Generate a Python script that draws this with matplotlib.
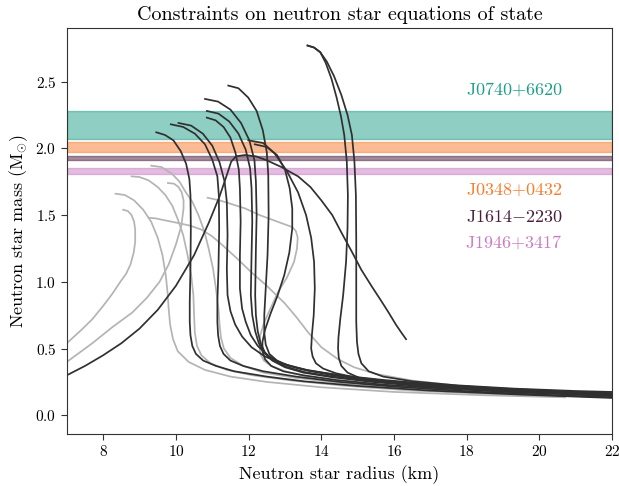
import numpy as np
import matplotlib
matplotlib.use("Agg")
from matplotlib import pyplot as plt

plt.rcParams['font.family'] = 'serif'
plt.rcParams['font.serif'] = ['cmr10', 'DejaVu Serif']
plt.rcParams['mathtext.fontset'] = 'cm'
plt.rcParams['axes.formatter.use_mathtext'] = True

# =====================================================================
# pulsar mass measurements (low, high) in solar masses
pulsar_names = ['J0740$+$6620', 'J0348$+$0432', 'J1614$-$2230', 'J1946$+$3417']
pulsar_lo = [2.07, 1.97, 1.91, 1.81]
pulsar_hi = [2.28, 2.05, 1.945, 1.85]
pulsar_colors = ['#1f9e89', '#f97b2c', '#4b1c3d', '#c97cc4']
label_mass = [2.445, 1.694, 1.489, 1.294]

# mass-radius curves: (radius km, mass Msun)
# dark = allowed EOS, gray = excluded EOS
dark_r = [
    # self-bound branch rising from the left, then sweeping out to the right
    [7.0, 7.5, 8.0, 8.5, 9.0, 9.5, 10.0, 10.5, 10.9, 11.2, 11.4, 11.52, 11.65, 11.9, 12.2, 12.5,
     12.9, 13.36, 13.7, 14.0, 14.3, 14.55, 14.85, 15.1, 15.4, 15.64, 15.85, 16.05, 16.2, 16.33],
    [9.46, 9.7, 9.93, 10.13, 10.28, 10.37, 10.4, 10.41, 10.4, 10.38, 10.38, 10.4, 10.45, 10.55,
     10.75, 11.1, 11.6, 12.5, 13.5, 15.0, 17.0, 19.5, 22.0],
    [9.86, 10.2, 10.52, 10.8, 11.0, 11.14, 11.18, 11.19, 11.17, 11.14, 11.14, 11.16, 11.21, 11.31,
     11.5, 11.85, 12.4, 13.3, 14.5, 16.0, 18.0, 20.0, 22.0],
    [10.07, 10.42, 10.74, 11.0, 11.2, 11.34, 11.4, 11.42, 11.4, 11.42, 11.5, 11.63, 11.82, 12.08,
     12.45, 12.95, 13.6, 14.6, 16.0, 18.0, 20.0, 22.0],
    [10.85, 11.09, 11.31, 11.5, 11.64, 11.73, 11.76, 11.78, 11.76, 11.76, 11.82, 11.92, 12.06, 12.25,
     12.52, 12.9, 13.45, 14.3, 15.5, 17.0, 18.8, 20.5, 22.0],
    [10.85, 11.17, 11.47, 11.72, 11.92, 12.04, 12.08, 12.1, 12.08, 12.06, 12.1, 12.18, 12.28, 12.42,
     12.65, 13.0, 13.5, 14.3, 15.4, 16.9, 18.7, 20.4, 22.0],
    [10.8, 11.16, 11.5, 11.79, 12.02, 12.16, 12.2, 12.22, 12.2, 12.18, 12.2, 12.25, 12.33, 12.45,
     12.68, 13.02, 13.52, 14.3, 15.45, 16.9, 18.8, 20.5, 22.0],
    [11.44, 11.72, 11.99, 12.22, 12.39, 12.5, 12.54, 12.55, 12.52, 12.47, 12.43, 12.43, 12.47, 12.57,
     12.78, 13.12, 13.65, 14.5, 15.7, 17.2, 19.0, 20.6, 22.0],
    [11.99, 12.4, 12.72, 13.05, 13.36, 13.58, 13.72, 13.8, 13.82, 13.79, 13.74, 13.72, 13.76, 13.85,
     14.05, 14.4, 15.0, 16.0, 17.4, 19.2, 20.7, 22.0],
    [12.17, 12.5, 12.78, 13.0, 13.13, 13.2, 13.2, 13.12, 12.98, 12.8, 12.6, 12.45, 12.38, 12.38,
     12.45, 12.62, 12.95, 13.5, 14.4, 15.7, 17.4, 19.5, 22.0],
    [13.62, 13.8, 13.97, 14.12, 14.28, 14.42, 14.54, 14.63, 14.7, 14.73, 14.72, 14.68, 14.6, 14.52,
     14.47, 14.46, 14.48, 14.55, 14.72, 15.05, 15.7, 16.8, 18.3, 20.0, 22.0],
    [13.62, 13.8, 13.97, 14.15, 14.35, 14.55, 14.72, 14.84, 14.91, 14.95, 14.96, 14.96, 14.96, 14.98,
     15.02, 15.1, 15.3, 15.7, 16.5, 17.7, 19.3, 21.0, 22.0],
]
dark_m = [
    [0.3, 0.37, 0.45, 0.54, 0.65, 0.79, 0.97, 1.2, 1.44, 1.64, 1.8, 1.9, 1.94, 1.95, 1.94, 1.91,
     1.86, 1.79, 1.71, 1.61, 1.5, 1.37, 1.22, 1.09, 0.96, 0.86, 0.77, 0.68, 0.62, 0.57],
    [2.12, 2.1, 2.06, 1.98, 1.885, 1.77, 1.65, 1.4, 1.1, 0.85, 0.7, 0.6, 0.52, 0.46,
     0.41, 0.37, 0.33, 0.29, 0.255, 0.22, 0.185, 0.155, 0.13],
    [2.18, 2.16, 2.11, 2.03, 1.915, 1.79, 1.65, 1.4, 1.1, 0.85, 0.7, 0.6, 0.52, 0.46,
     0.41, 0.37, 0.33, 0.29, 0.25, 0.215, 0.18, 0.155, 0.135],
    [2.19, 2.17, 2.11, 2.02, 1.895, 1.75, 1.6, 1.35, 1.1, 0.9, 0.78, 0.68, 0.59, 0.51,
     0.44, 0.385, 0.34, 0.295, 0.25, 0.205, 0.17, 0.145],
    [2.23, 2.21, 2.16, 2.08, 1.965, 1.84, 1.7, 1.45, 1.2, 0.95, 0.8, 0.7, 0.6, 0.52,
     0.45, 0.39, 0.345, 0.3, 0.26, 0.225, 0.19, 0.165, 0.145],
    [2.28, 2.26, 2.2, 2.11, 1.99, 1.85, 1.7, 1.45, 1.2, 0.9, 0.75, 0.63, 0.54, 0.47,
     0.41, 0.36, 0.32, 0.285, 0.25, 0.215, 0.185, 0.165, 0.15],
    [2.37, 2.35, 2.29, 2.19, 2.06, 1.91, 1.75, 1.5, 1.25, 0.9, 0.75, 0.63, 0.54, 0.47,
     0.41, 0.365, 0.325, 0.29, 0.255, 0.222, 0.193, 0.173, 0.155],
    [2.47, 2.45, 2.38, 2.28, 2.135, 1.97, 1.8, 1.5, 1.2, 0.95, 0.75, 0.62, 0.53, 0.46,
     0.41, 0.37, 0.335, 0.3, 0.265, 0.23, 0.2, 0.18, 0.16],
    [2.06, 2.04, 1.96, 1.83, 1.67, 1.5, 1.33, 1.15, 0.95, 0.75, 0.6, 0.5, 0.44, 0.39,
     0.35, 0.315, 0.28, 0.245, 0.215, 0.19, 0.175, 0.165],
    [2.03, 2.01, 1.95, 1.84, 1.7, 1.55, 1.4, 1.22, 1.05, 0.9, 0.76, 0.64, 0.55, 0.48,
     0.42, 0.37, 0.33, 0.3, 0.265, 0.23, 0.2, 0.17, 0.15],
    [2.77, 2.755, 2.72, 2.64, 2.52, 2.38, 2.24, 2.1, 1.9, 1.65, 1.4, 1.15, 0.9, 0.72,
     0.58, 0.5, 0.43, 0.37, 0.32, 0.28, 0.25, 0.22, 0.195, 0.18, 0.165],
    [2.77, 2.755, 2.72, 2.65, 2.54, 2.4, 2.25, 2.1, 1.9, 1.65, 1.3, 1.0, 0.7, 0.55,
     0.46, 0.39, 0.33, 0.29, 0.255, 0.225, 0.2, 0.182, 0.175],
]

gray_r = [
    [8.55, 8.68, 8.78, 8.85, 8.88, 8.88, 8.84, 8.75, 8.63, 8.47, 8.25, 8.0, 7.7, 7.4, 7.0],
    [9.78, 9.95, 10.07, 10.16, 10.21, 10.21, 10.15, 10.0, 9.8, 9.55, 9.2, 8.8, 8.25, 7.7, 7.0],
    [8.34, 8.6, 8.85, 9.1, 9.32, 9.5, 9.63, 9.72, 9.77, 9.8, 9.84, 9.92, 10.05, 10.35, 10.8, 11.5,
     12.5, 14.0, 16.0, 18.5, 20.7],
    [8.78, 9.0, 9.25, 9.5, 9.71, 9.9, 10.05, 10.2, 10.32, 10.42, 10.48, 10.5, 10.52, 10.58, 10.7,
     10.95, 11.4, 12.1, 13.2, 14.7, 16.5, 18.6, 20.7],
    [9.32, 9.6, 9.89, 10.1, 10.25, 10.45, 10.62, 10.78, 10.9, 11.02, 11.1, 11.17, 11.2, 11.24,
     11.32, 11.5, 11.85, 12.4, 13.3, 14.6, 16.3, 18.4, 20.7],
    [9.25, 9.45, 9.62, 10.07, 10.4, 10.71, 11.0, 11.3, 11.7, 12.08, 12.5, 12.99, 13.3, 13.64,
     14.0, 14.46, 14.9, 15.5, 16.5, 18.0, 19.5, 21.5],
    [10.87, 11.2, 11.5, 11.9, 12.3, 12.7, 13.0, 13.2, 13.3, 13.35, 13.33, 13.25, 13.05, 12.82,
     12.6, 12.42, 12.32, 12.3, 12.32, 12.42, 12.62, 13.0, 13.6, 14.5, 15.8, 17.5, 19.5, 21.5],
]
gray_m = [
    [1.54, 1.53, 1.5, 1.45, 1.39, 1.3, 1.22, 1.13, 1.06, 1.0, 0.91, 0.82, 0.72, 0.64, 0.54],
    [1.74, 1.735, 1.71, 1.67, 1.61, 1.55, 1.42, 1.28, 1.13, 1.0, 0.88, 0.77, 0.66, 0.54, 0.4],
    [1.66, 1.65, 1.61, 1.54, 1.45, 1.33, 1.2, 1.05, 0.92, 0.8, 0.68, 0.57, 0.48, 0.4, 0.34, 0.29,
     0.25, 0.21, 0.175, 0.15, 0.135],
    [1.79, 1.785, 1.76, 1.71, 1.65, 1.57, 1.47, 1.35, 1.2, 1.05, 0.9, 0.75, 0.62, 0.52, 0.45,
     0.39, 0.34, 0.3, 0.26, 0.22, 0.185, 0.16, 0.14],
    [1.87, 1.86, 1.81, 1.75, 1.68, 1.6, 1.5, 1.38, 1.25, 1.1, 0.95, 0.8, 0.68, 0.58,
     0.5, 0.43, 0.37, 0.32, 0.28, 0.24, 0.2, 0.17, 0.145],
    [1.48, 1.475, 1.465, 1.44, 1.42, 1.39, 1.34, 1.27, 1.17, 1.07, 0.97, 0.84, 0.74, 0.62,
     0.51, 0.42, 0.36, 0.31, 0.26, 0.215, 0.185, 0.16],
    [1.63, 1.61, 1.585, 1.55, 1.5, 1.46, 1.43, 1.41, 1.38, 1.33, 1.25, 1.15, 1.03, 0.93,
     0.8, 0.69, 0.6, 0.52, 0.46, 0.41, 0.37, 0.33, 0.29, 0.255, 0.22, 0.19, 0.165, 0.145],
]

# =====================================================================
fig = plt.figure(figsize=(6.19, 4.86), dpi=100)
ax = fig.add_axes([0.108, 0.107, 0.881, 0.835])

for i in range(len(pulsar_names)):
    ax.axhspan(pulsar_lo[i], pulsar_hi[i], facecolor=pulsar_colors[i], alpha=0.5,
               edgecolor=pulsar_colors[i], linewidth=1.0, zorder=1)
    ax.text(19.3, label_mass[i], pulsar_names[i], color=pulsar_colors[i],
            fontsize=13, ha='center', va='center', zorder=5)

for r, m in zip(gray_r, gray_m):
    ax.plot(r, m, color='#b4b4b4', linewidth=1.25, zorder=2)
for r, m in zip(dark_r, dark_m):
    ax.plot(r, m, color='#303030', linewidth=1.25, zorder=3)

ax.set_xlim(7, 22)
ax.set_ylim(-0.14, 2.9)
ax.set_xticks([8, 10, 12, 14, 16, 18, 20, 22])
ax.set_yticks([0.0, 0.5, 1.0, 1.5, 2.0, 2.5])
ax.tick_params(labelsize=11, direction='out', length=4, color='#333333')
for s in ax.spines.values():
    s.set_color('#333333')

ax.set_xlabel('Neutron star radius (km)', fontsize=13)
ax.set_ylabel(r'Neutron star mass ($\mathrm{M}_{\odot}$)', fontsize=13)
ax.set_title('Constraints on neutron star equations of state', fontsize=14.5)

plt.savefig('out.png', dpi=100)
